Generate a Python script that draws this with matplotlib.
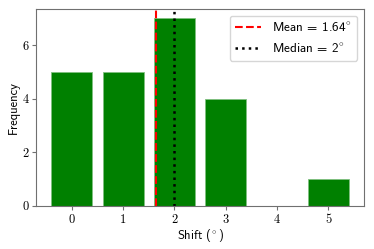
import matplotlib
matplotlib.use('Agg')
import matplotlib.pyplot as plt

shifts = [0, 1, 2, 3, 4, 5]
counts = [5, 5, 7, 4, 0, 1]
mean_shift = 1.64
median_shift = 2
yticks = [0, 2, 4, 6]

plt.rcParams['font.family'] = 'cmss10'
plt.rcParams['mathtext.fontset'] = 'custom'
plt.rcParams['mathtext.rm'] = 'cmss10'
plt.rcParams['mathtext.it'] = 'cmss10'
plt.rcParams['mathtext.fallback'] = 'cm'
plt.rcParams['axes.formatter.use_mathtext'] = True
plt.rcParams['font.size'] = 9

fig, ax = plt.subplots(figsize=(3.74, 2.49), dpi=100)
fig.subplots_adjust(left=0.097, right=0.973, top=0.964, bottom=0.173)

ax.bar(shifts, counts, width=0.8, color='green', edgecolor='#80c080', linewidth=0.6)
ax.axvline(mean_shift, color='red', linestyle='--', linewidth=1.5,
           label='Mean = $%.2f^{\\!\\circ}$' % mean_shift)
ax.axvline(median_shift, color='black', linestyle=':', linewidth=1.8,
           label='Median = $%d^{\\!\\circ}$' % median_shift)

ax.set_xticks(shifts, [str(s) for s in shifts], fontfamily='cmr10')
ax.set_yticks(yticks, [str(v) for v in yticks], fontfamily='cmr10')
ax.set_xlabel('Shift $(^{\\!\\circ})$', labelpad=1)
ax.set_ylabel('Frequency', labelpad=2)

for s in ax.spines.values():
    s.set_color('#707070')
ax.tick_params(colors='#707070', labelcolor='black', length=3, pad=2.5)

ax.legend(loc='upper right', fontsize=9.5)

fig.savefig('out.png', dpi=100)
